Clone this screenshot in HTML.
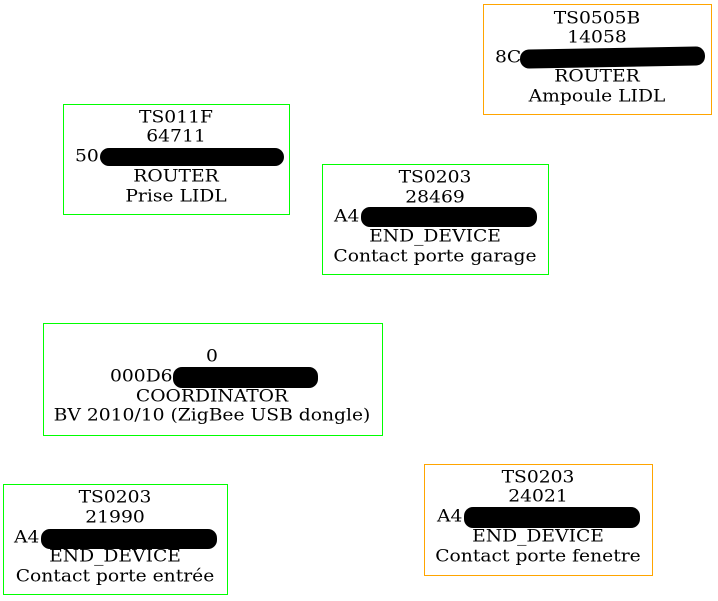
<!DOCTYPE html>
<html><head><meta charset="utf-8"><style>
html,body{margin:0;padding:0;background:#fff;}
body{width:718px;height:601px;position:relative;overflow:hidden;font-family:"DejaVu Serif",serif;font-size:17px;color:#000;}
.box{position:absolute;box-sizing:border-box;border:1.3px solid #0f0;}
.or{border-color:#ffa500;}
.t{position:absolute;white-space:nowrap;transform:translate(-50%,-50%) scaleX(1.1);line-height:1;}
.l{position:absolute;white-space:nowrap;transform:translateY(-50%) scaleX(1.1);transform-origin:left center;line-height:1;}
.bar{position:absolute;background:#000;border-radius:9px;}
</style></head><body>
<div class="box or" style="left:483px;top:4px;width:229px;height:111px"></div>
<div class="t" style="left:597px;top:19px">TS0505B</div>
<div class="t" style="left:597px;top:38px">14058</div>
<div class="l" style="left:495px;top:58px">8C</div>
<div class="bar" style="left:520px;top:48px;width:185px;height:19px;transform:rotate(-1deg)"></div>
<div class="t" style="left:597px;top:77px">ROUTER</div>
<div class="t" style="left:597px;top:97px">Ampoule LIDL</div>

<div class="box" style="left:63px;top:104px;width:227px;height:111px"></div>
<div class="t" style="left:176px;top:118px">TS011F</div>
<div class="t" style="left:176px;top:137px">64711</div>
<div class="l" style="left:75px;top:157px">50</div>
<div class="bar" style="left:100px;top:148px;width:184px;height:18px"></div>
<div class="t" style="left:176px;top:177px">ROUTER</div>
<div class="t" style="left:176px;top:197px">Prise LIDL</div>

<div class="box" style="left:322px;top:164px;width:227px;height:111px"></div>
<div class="t" style="left:435px;top:178px">TS0203</div>
<div class="t" style="left:435px;top:198px">28469</div>
<div class="l" style="left:334px;top:217px">A4</div>
<div class="bar" style="left:361px;top:207px;width:176px;height:20px"></div>
<div class="t" style="left:435px;top:237px">END_DEVICE</div>
<div class="t" style="left:435px;top:257px">Contact porte garage</div>

<div class="box" style="left:43px;top:323px;width:340px;height:113px"></div>
<div class="t" style="left:212px;top:357px">0</div>
<div class="l" style="left:110px;top:377px">000D6</div>
<div class="bar" style="left:173px;top:367px;width:145px;height:21px"></div>
<div class="t" style="left:212px;top:397px">COORDINATOR</div>
<div class="t" style="left:212px;top:416px">BV 2010/10 (ZigBee USB dongle)</div>

<div class="box" style="left:3px;top:484px;width:225px;height:111px"></div>
<div class="t" style="left:115px;top:498px">TS0203</div>
<div class="t" style="left:115px;top:518px">21990</div>
<div class="l" style="left:14px;top:538px">A4</div>
<div class="bar" style="left:41px;top:529px;width:176px;height:20px"></div>
<div class="t" style="left:115px;top:557px">END_DEVICE</div>
<div class="t" style="left:115px;top:577px">Contact porte entrée</div>

<div class="box or" style="left:424px;top:464px;width:229px;height:112px"></div>
<div class="t" style="left:538px;top:478px">TS0203</div>
<div class="t" style="left:538px;top:497px">24021</div>
<div class="l" style="left:437px;top:517px">A4</div>
<div class="bar" style="left:464px;top:507px;width:176px;height:21px"></div>
<div class="t" style="left:538px;top:537px">END_DEVICE</div>
<div class="t" style="left:538px;top:557px">Contact porte fenetre</div>
</body></html>
